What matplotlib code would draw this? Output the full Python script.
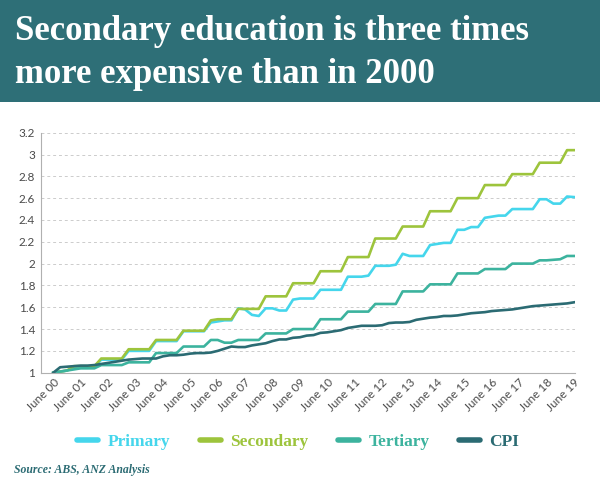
import matplotlib
matplotlib.use("Agg")
import matplotlib.pyplot as plt
from matplotlib.lines import Line2D
from matplotlib.patches import Rectangle
import numpy as np

# quarterly index (June 2000 = 1), June 00 .. June 19
years = ["June %02d" % y for y in range(0, 20)]

primary = [1.00, 1.01, 1.02,
           1.045, 1.045, 1.045, 1.05,
           1.12, 1.12, 1.12, 1.12,
           1.20, 1.20, 1.20, 1.20,
           1.29, 1.29, 1.29, 1.29,
           1.38, 1.38, 1.38, 1.38,
           1.46, 1.47, 1.48, 1.48,
           1.59, 1.58, 1.53, 1.52,
           1.59, 1.59, 1.57, 1.57,
           1.67, 1.68, 1.68, 1.68,
           1.76, 1.76, 1.76, 1.76,
           1.88, 1.88, 1.88, 1.89,
           1.98, 1.98, 1.98, 1.99,
           2.09, 2.07, 2.07, 2.07,
           2.17, 2.18, 2.19, 2.19,
           2.31, 2.31, 2.335, 2.335,
           2.42, 2.43, 2.44, 2.44,
           2.50, 2.50, 2.50, 2.50,
           2.59, 2.59, 2.55, 2.55,
           2.615, 2.61]

secondary = [1.00, 1.01, 1.02,
             1.06, 1.06, 1.06, 1.06,
             1.13, 1.13, 1.13, 1.13,
             1.215, 1.215, 1.215, 1.215,
             1.30, 1.30, 1.30, 1.30,
             1.385, 1.385, 1.385, 1.385,
             1.48, 1.49, 1.49, 1.49,
             1.585, 1.585, 1.585, 1.585,
             1.70, 1.70, 1.70, 1.70,
             1.82, 1.82, 1.82, 1.82,
             1.93, 1.93, 1.93, 1.93,
             2.06, 2.06, 2.06, 2.06,
             2.23, 2.23, 2.23, 2.23,
             2.34, 2.34, 2.34, 2.34,
             2.48, 2.48, 2.48, 2.48,
             2.60, 2.60, 2.60, 2.60,
             2.72, 2.72, 2.72, 2.72,
             2.82, 2.82, 2.82, 2.82,
             2.925, 2.925, 2.925, 2.925,
             3.04, 3.04]

tertiary = [1.00, 1.01, 1.02,
            1.03, 1.04, 1.04, 1.04,
            1.07, 1.07, 1.07, 1.07,
            1.095, 1.095, 1.095, 1.095,
            1.18, 1.18, 1.18, 1.18,
            1.24, 1.24, 1.24, 1.24,
            1.30, 1.30, 1.275, 1.275,
            1.30, 1.30, 1.30, 1.30,
            1.36, 1.36, 1.36, 1.36,
            1.40, 1.40, 1.40, 1.40,
            1.49, 1.49, 1.49, 1.49,
            1.56, 1.56, 1.56, 1.56,
            1.63, 1.63, 1.63, 1.63,
            1.745, 1.745, 1.745, 1.745,
            1.81, 1.81, 1.81, 1.81,
            1.91, 1.91, 1.91, 1.91,
            1.95, 1.95, 1.95, 1.95,
            2.00, 2.00, 2.00, 2.00,
            2.03, 2.03, 2.035, 2.04,
            2.07, 2.07]

cpi = [1.00, 1.05, 1.055,
       1.06, 1.065, 1.065, 1.07,
       1.08, 1.09, 1.10, 1.11,
       1.12, 1.125, 1.13, 1.13,
       1.13, 1.15, 1.16, 1.16,
       1.165, 1.175, 1.18, 1.18,
       1.185, 1.20, 1.22, 1.24,
       1.235, 1.235, 1.25, 1.26,
       1.27, 1.29, 1.305, 1.305,
       1.32, 1.325, 1.34, 1.345,
       1.365, 1.37, 1.38, 1.39,
       1.41, 1.42, 1.43, 1.43,
       1.43, 1.435, 1.455, 1.46,
       1.46, 1.465, 1.485, 1.495,
       1.505, 1.51, 1.52, 1.52,
       1.525, 1.535, 1.545, 1.55,
       1.555, 1.565, 1.57, 1.575,
       1.58, 1.59, 1.60, 1.61,
       1.615, 1.62, 1.625, 1.63,
       1.635, 1.645]

labels = ["Primary", "Secondary", "Tertiary", "CPI"]
colors = ["#45d6ec", "#9dc43c", "#3cb39e", "#2b6b73"]
series = [primary, secondary, tertiary, cpi]

banner = "#2e6f77"
serif = "Liberation Serif"

fig = plt.figure(figsize=(6, 4.91), dpi=100)
fig.patch.set_facecolor("white")

# title banner
fig.patches.append(Rectangle((0, 1 - 102 / 491), 1, 102 / 491, transform=fig.transFigure,
                             facecolor=banner, edgecolor="none", zorder=0))
fig.text(0.025, 1 - 40 / 491, "Secondary education is three times", color="white",
         fontsize=25, fontweight="bold", family=serif, va="baseline")
fig.text(0.025, 1 - 83 / 491, "more expensive than in 2000", color="white",
         fontsize=25, fontweight="bold", family=serif, va="baseline")

ax = fig.add_axes([40.7 / 600, 118.3 / 491, (575 - 40.7) / 600, 240 / 491])
x = np.arange(len(primary)) / 4
for s, c in zip(series, colors):
    ax.plot(x, s, color=c, lw=1.9, solid_joinstyle="round")

ax.set_xlim(-0.46, 19.04)
ax.set_ylim(1, 3.2)
yt = np.arange(1, 3.21, 0.2)
ax.set_yticks(yt)
ax.set_yticklabels(["%g" % round(v, 1) for v in yt], fontsize=8.5, color="#4a4a4a",
                   family="Lato")
ax.set_xticks(range(20))
ax.set_xticklabels(years, rotation=45, ha="right", rotation_mode="anchor",
                   fontsize=8.5, color="#4a4a4a", family="Lato")
ax.tick_params(axis="both", length=0, pad=3)
ax.tick_params(axis="y", pad=4)
ax.grid(axis="y", color="#cccccc", ls=(0, (3, 3)), lw=0.7)
ax.set_axisbelow(True)
for side in ["top", "right"]:
    ax.spines[side].set_visible(False)
for side in ["left", "bottom"]:
    ax.spines[side].set_color("#b0b0b0")
    ax.spines[side].set_linewidth(0.8)

handles = [Line2D([], [], color=c, lw=4, solid_capstyle="round") for c in colors]
leg = fig.legend(handles, labels, loc="center", bbox_to_anchor=(0.497, 1 - 442 / 491),
                 ncol=4, frameon=False, handlelength=1.2, handletextpad=0.55,
                 columnspacing=1.7, prop={"family": serif, "weight": "bold", "size": 12.5})
for t, c in zip(leg.get_texts(), colors):
    t.set_color(c)

fig.text(0.024, 1 - 470 / 491, "Source: ABS, ANZ Analysis", color="#2b6b73",
         fontsize=8.5, fontweight="bold", style="italic", family=serif, va="center")

fig.savefig("out.png", dpi=100, facecolor="white")
